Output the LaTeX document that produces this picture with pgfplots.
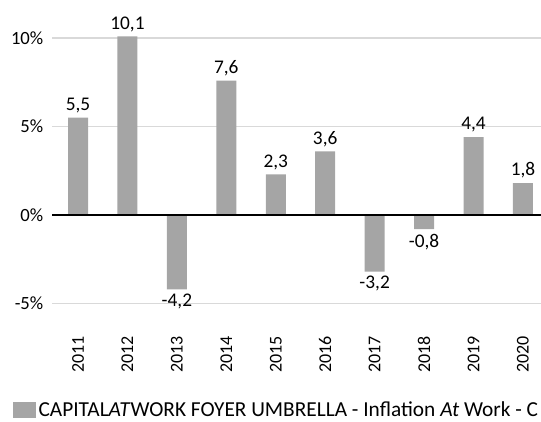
\documentclass[border=0pt]{standalone}
\usepackage{pgfplots}
\pgfplotsset{compat=1.18}
\usepackage{fontspec}
\setmainfont{Carlito}
\definecolor{bargray}{HTML}{A5A5A5}
\definecolor{gridgray}{HTML}{D9D9D9}
\begin{document}
\begin{tikzpicture}
\clip (-39pt,-88.125pt) rectangle (366.75pt,227.625pt);
\begin{axis}[
  scale only axis,
  width=366.75pt, height=201.75pt,
  xmin=-0.526, xmax=9.365,
  ymin=-5, ymax=10.2,
  ybar, bar width=15pt,
  axis line style={draw=none},
  major tick length=0pt,
  xtick=data,
  xticklabels={2011,2012,2013,2014,2015,2016,2017,2018,2019,2020},
  xticklabel style={rotate=90, anchor=east, font=\fontsize{13.5}{16}\selectfont},
  xticklabel shift={21pt},
  ytick={-5,0,5,10},
  yticklabel={\pgfmathprintnumber[fixed,precision=0,fixed zerofill=false]{\tick}\%},
  yticklabel style={xshift=-3pt, font=\fontsize{14}{16}\selectfont},
  ymajorgrids, grid style={gridgray, line width=0.9pt},
  /pgf/number format/assume math mode=true,
  /pgf/number format/use comma,
  /pgf/number format/fixed,
  /pgf/number format/precision=1,
  /pgf/number format/fixed zerofill,
  nodes near coords,
  every node near coord/.append style={font=\fontsize{14.5}{16}\selectfont, black},
  legend style={at={(-0.0798,-0.396)}, anchor=west, draw=none, fill=none, inner sep=0pt,
    nodes={inner sep=2pt, font=\fontsize{16}{18}\selectfont}},
  legend image code/.code={\fill[bargray] (0pt,-6pt) rectangle (17pt,6pt);},
]
\addplot[fill=bargray, draw=none] coordinates {
 (0,5.5) (1,10.1) (2,-4.2) (3,7.6) (4,2.3) (5,3.6) (6,-3.2) (7,-0.8) (8,4.4) (9,1.8)};
\addlegendentry{CAPITAL\textit{AT}WORK FOYER UMBRELLA - Inflation \textit{At} Work - C}
\draw[black, line width=0.9pt] (axis cs:-1,0) -- (axis cs:10,0);
\end{axis}
\end{tikzpicture}
\end{document}
